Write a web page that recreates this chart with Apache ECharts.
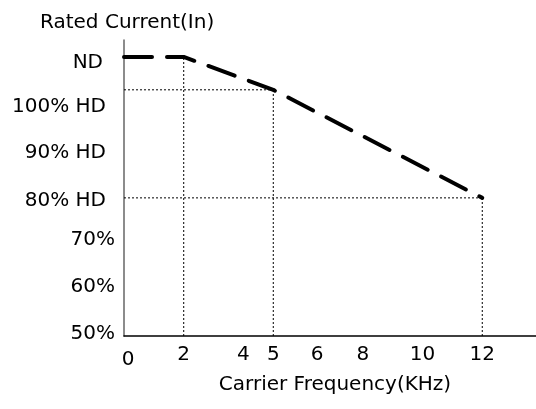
<!DOCTYPE html>
<html>
<head>
<meta charset="utf-8">
<script src="https://cdn.jsdelivr.net/npm/echarts@6/dist/echarts.min.js"></script>
<style>
    html, body {margin: 0; padding: 0; background: #fff;}
    #chart {width: 536px; height: 409px;}
</style>
</head>
<body>
<div id="chart"></div>
<script>
// 载波频率 (KHz) 与额定电流的折减曲线
var freqPoints = [0, 2, 5, 12];
var currentPoints = [109.4, 109.4, 102.4, 79.4];   // ND, ND, 100% HD, 80% HD

var xTickValues = [0, 2, 4, 5, 6, 8, 10, 12];
var yTickValues = [50.4, 60.4, 70.4, 78.7, 88.95, 98.7, 108.1];
var yTickLabels = ['50%', '60%', '70%', '80% HD', '90% HD', '100% HD', 'ND'];

var FONT = 'DejaVu Sans';
var FS = 20;

// 虚线辅助线 (竖线 + 横线)
function guideSeries() {
    var list = [];
    for (var i = 1; i < freqPoints.length; i++) {
        var f = freqPoints[i], c = currentPoints[i];
        list.push([[f, 50], [f, c]]);
        if (i > 1) {
            list.push([[0, c], [f, c]]);
        }
    }
    return list.map(function (d) {
        return {
            type: 'line',
            data: d,
            symbol: 'none',
            silent: true,
            lineStyle: {color: '#000', width: 1, type: [2, 2]},
            z: 1
        };
    });
}

var myChart = echarts.init(document.getElementById('chart'));
var series = guideSeries();
series.push({
    type: 'line',
    data: freqPoints.map(function (f, i) { return [f, currentPoints[i]]; }),
    symbol: 'none',
    lineStyle: {color: '#000', width: 4, type: [28, 15], cap: 'round'},
    z: 5
});

myChart.setOption({
    animation: false,
    textStyle: {fontFamily: FONT},
    title: {
        text: 'Rated Current(In)',
        left: 35,
        top: 8,
        textStyle: {fontFamily: FONT, fontSize: FS, fontWeight: 'normal', color: '#000'}
    },
    grid: {left: 124, top: 40, right: 0, bottom: 73},
    xAxis: {
        type: 'value',
        min: 0,
        max: 13.8,
        name: 'Carrier Frequency(KHz)',
        nameLocation: 'middle',
        nameGap: 36,
        nameTextStyle: {fontFamily: FONT, fontSize: FS, color: '#000', padding: [0, 0, 0, 10]},
        axisLine: {lineStyle: {color: '#000', width: 1.5}},
        axisTick: {show: false},
        splitLine: {show: false},
        axisLabel: {
            customValues: xTickValues,
            margin: 9,
            fontSize: FS,
            color: '#000',
            fontFamily: FONT,
            formatter: function (v) {
                if (v === 6) return '{s6|6}';
                if (v === 0) return '{s0|0}';
                return '' + v;
            },
            rich: {
                s6: {fontSize: FS, color: '#000', fontFamily: FONT, padding: [0, 0, 0, 28]},
                s0: {fontSize: FS, color: '#000', fontFamily: FONT, padding: [5, 0, 0, 8]}
            }
        }
    },
    yAxis: {
        type: 'value',
        min: 50,
        max: 113,
        axisLine: {lineStyle: {color: '#666', width: 1.5}},
        axisTick: {show: false},
        splitLine: {show: false},
        axisLabel: {
            customValues: yTickValues,
            margin: 9,
            fontSize: FS,
            color: '#000',
            fontFamily: FONT,
            formatter: function (v) {
                var i = yTickValues.indexOf(v);
                var t = yTickLabels[i];
                if (t === 'ND') return '{nd|' + t + '}';
                if (t.indexOf('HD') >= 0) return '{hd|' + t + '}';
                return t;
            },
            rich: {
                hd: {fontSize: FS, color: '#000', fontFamily: FONT, padding: [0, 9, 0, 0]},
                nd: {fontSize: FS, color: '#000', fontFamily: FONT, padding: [0, 12, 0, 0]}
            }
        }
    },
    series: series
});
</script>
</body>
</html>
